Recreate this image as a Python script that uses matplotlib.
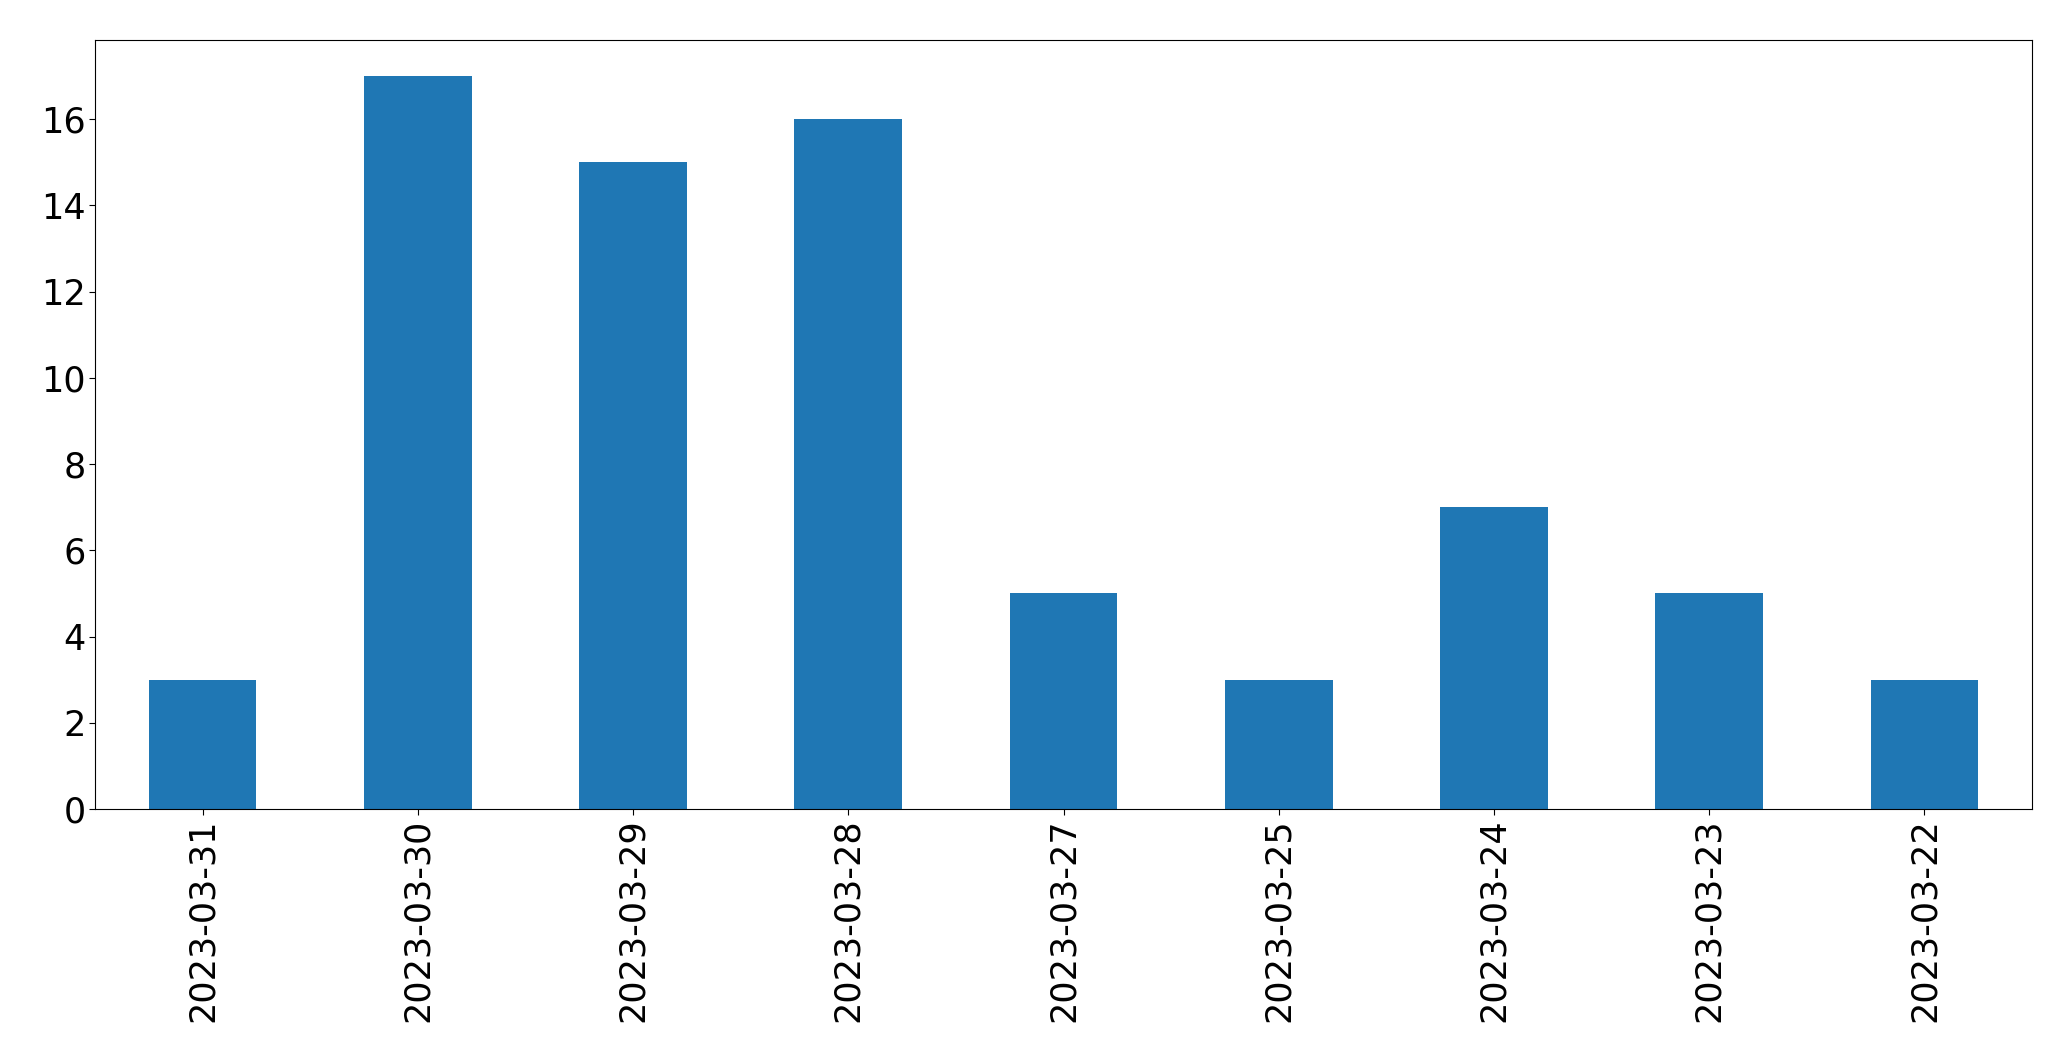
import matplotlib
matplotlib.use("Agg")
import matplotlib.pyplot as plt

dates = ["2023-03-31", "2023-03-30", "2023-03-29", "2023-03-28", "2023-03-27",
         "2023-03-25", "2023-03-24", "2023-03-23", "2023-03-22"]
counts = [3, 17, 15, 16, 5, 3, 7, 5, 3]

fig = plt.figure(figsize=(20.71, 10.61), dpi=100)
ax = fig.add_axes([95 / 2071, 1 - 809 / 1061, (2032 - 95) / 2071, (809 - 39.5) / 1061])
x = list(range(len(dates)))
ax.bar(x, counts, width=0.5, color="#1f77b4")
ax.set_xlim(-0.5, len(dates) - 0.5)
ax.set_ylim(0, max(counts) * 1.05)
ax.set_xticks(x)
ax.set_xticklabels(dates, rotation=90)
ax.set_yticks(range(0, 17, 2))
ax.tick_params(axis="both", labelsize=25.2, length=4.3, pad=2.5)
fig.savefig("out.png", dpi=100)
